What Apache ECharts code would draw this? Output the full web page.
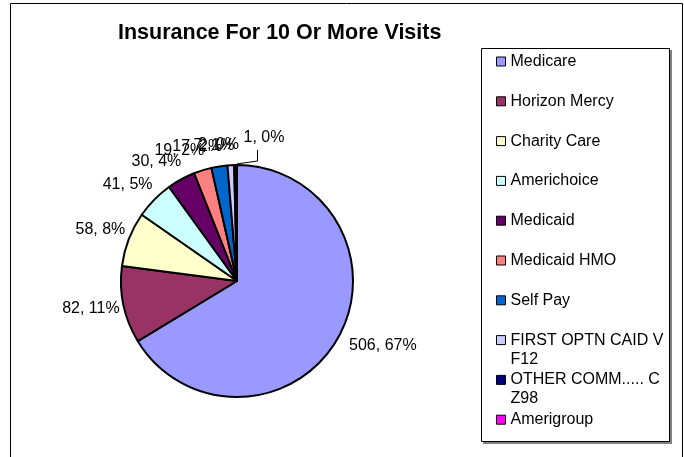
<!DOCTYPE html>
<html><head><meta charset="utf-8">
<script src="https://cdn.jsdelivr.net/npm/echarts@6/dist/echarts.min.js"></script>
<style>html,body{margin:0;padding:0;background:#fff}#c{width:684px;height:457px}</style>
</head><body><div id="c"></div>
<script>
// ---- data ----
const titleText = 'Insurance For 10 Or More Visits';
const categories = ['Medicare', 'Horizon Mercy', 'Charity Care', 'Americhoice', 'Medicaid',
  'Medicaid HMO', 'Self Pay', 'FIRST OPTN CAID V F12', 'OTHER COMM..... C Z98', 'Amerigroup'];
const values = [506, 82, 58, 41, 30, 19, 17, 7, 2, 1];
const percentLabels = [67, 11, 8, 5, 4, 2, 2, 1, 0, 0];
const colors = ['#9999FF', '#993366', '#FFFFCC', '#CCFFFF', '#660066',
  '#FF8080', '#0066CC', '#CCCCFF', '#000080', '#FF00FF'];

// ---- layout / style ----
const FONT = 'Liberation Sans, Arial, sans-serif';
const CX = 237, CY = 281, RADIUS = 116;
const LABEL_GAP = 8, LABEL_SHIFT_X = 4, LABEL_SHIFT_Y = -4;
const MOVED = { index: 9, dx: 3, dy: -7, align: 'left', leaderX: 14 };
const LEGEND_X = 496, LEGEND_TOP = 52, LEGEND_STRIDE = 39.8, LEGEND_TEXT_W = 160, LEGEND_LH = 19;
const ICON = 9;

const total = values.reduce((a, b) => a + b, 0);
const mids = [];
let acc = 0;
values.forEach(v => { mids.push((acc + v / 2) / total * 2 * Math.PI); acc += v; });

const measureCtx = document.createElement('canvas').getContext('2d');
measureCtx.font = '16px ' + FONT;

const legends = categories.map((name, i) => {
  const tall = measureCtx.measureText(name).width > LEGEND_TEXT_W;
  // for wrapped names keep the square beside the first line (as in the reference)
  const iconH = tall ? ICON + LEGEND_LH : ICON;
  return {
    data: [name],
    orient: 'vertical',
    left: LEGEND_X,
    top: LEGEND_TOP + i * LEGEND_STRIDE,
    padding: 0,
    itemGap: 0,
    itemWidth: ICON,
    itemHeight: iconH,
    icon: tall ? 'path://M0,0H' + ICON + 'V' + ICON + 'H0Z M0,' + iconH + 'L0,' + iconH : 'rect',
    selectedMode: false,
    itemStyle: { borderColor: '#000', borderWidth: 1 },
    textStyle: {
      fontFamily: FONT, fontSize: 16, color: '#000',
      width: LEGEND_TEXT_W, overflow: 'break', lineHeight: LEGEND_LH
    }
  };
});

const seriesData = categories.map((name, i) => {
  const d = { name: name, value: values[i], itemStyle: { color: colors[i] } };
  if (i === MOVED.index) d.labelLine = { show: true, lineStyle: { color: '#000', width: 1 } };
  return d;
});

const chart = echarts.init(document.getElementById('c'), null, { renderer: 'canvas' });
chart.setOption({
  animation: false,
  backgroundColor: '#fff',
  title: {
    text: titleText, left: 118, top: 22, padding: 0,
    textStyle: { fontFamily: FONT, fontSize: 21.5, fontWeight: 'bold', color: '#000' }
  },
  legend: legends,
  graphic: [
    { type: 'rect', shape: { x: 10.5, y: 3.5, width: 672, height: 470 },
      style: { fill: 'none', stroke: '#000', lineWidth: 1 } },
    { type: 'rect', shape: { x: 483, y: 50, width: 189, height: 394 },
      style: { fill: '#808080' } },
    { type: 'rect', shape: { x: 481.5, y: 48.5, width: 188, height: 393 },
      style: { fill: '#fff', stroke: '#000', lineWidth: 1 } }
  ],
  series: [{
    type: 'pie',
    center: [CX, CY],
    radius: RADIUS,
    startAngle: 90,
    clockwise: true,
    avoidLabelOverlap: false,
    data: seriesData,
    itemStyle: { borderColor: '#000', borderWidth: 2 },
    label: {
      show: true, position: 'outside', color: '#000',
      fontFamily: FONT, fontSize: 16,
      formatter: p => p.value + ', ' + percentLabels[p.dataIndex] + '%'
    },
    labelLine: { show: false, length: 0, length2: 0 },
    labelLayout: function (p) {
      const i = p.dataIndex;
      const ux = Math.sin(mids[i]), uy = -Math.cos(mids[i]);
      const r = RADIUS + LABEL_GAP;
      const h = p.labelRect.height;
      let x = CX + r * ux + LABEL_SHIFT_X;
      let y = CY + r * uy + (uy < 0 ? LABEL_SHIFT_Y : 0) + uy * h / 2;
      let align = ux >= 0 ? 'left' : 'right';
      const out = { x: x, y: y, align: align, verticalAlign: 'middle' };
      if (i === MOVED.index) {
        out.x = x + MOVED.dx; out.y = y + MOVED.dy; out.align = MOVED.align;
        const ex = CX + RADIUS * ux, ey = CY + RADIUS * uy;
        const lx = out.x + MOVED.leaderX;
        out.labelLinePoints = [[ex, ey - 1], [lx, ey - 4], [lx, out.y + h / 2 + 4]];
      }
      return out;
    }
  }]
});
</script></body></html>
